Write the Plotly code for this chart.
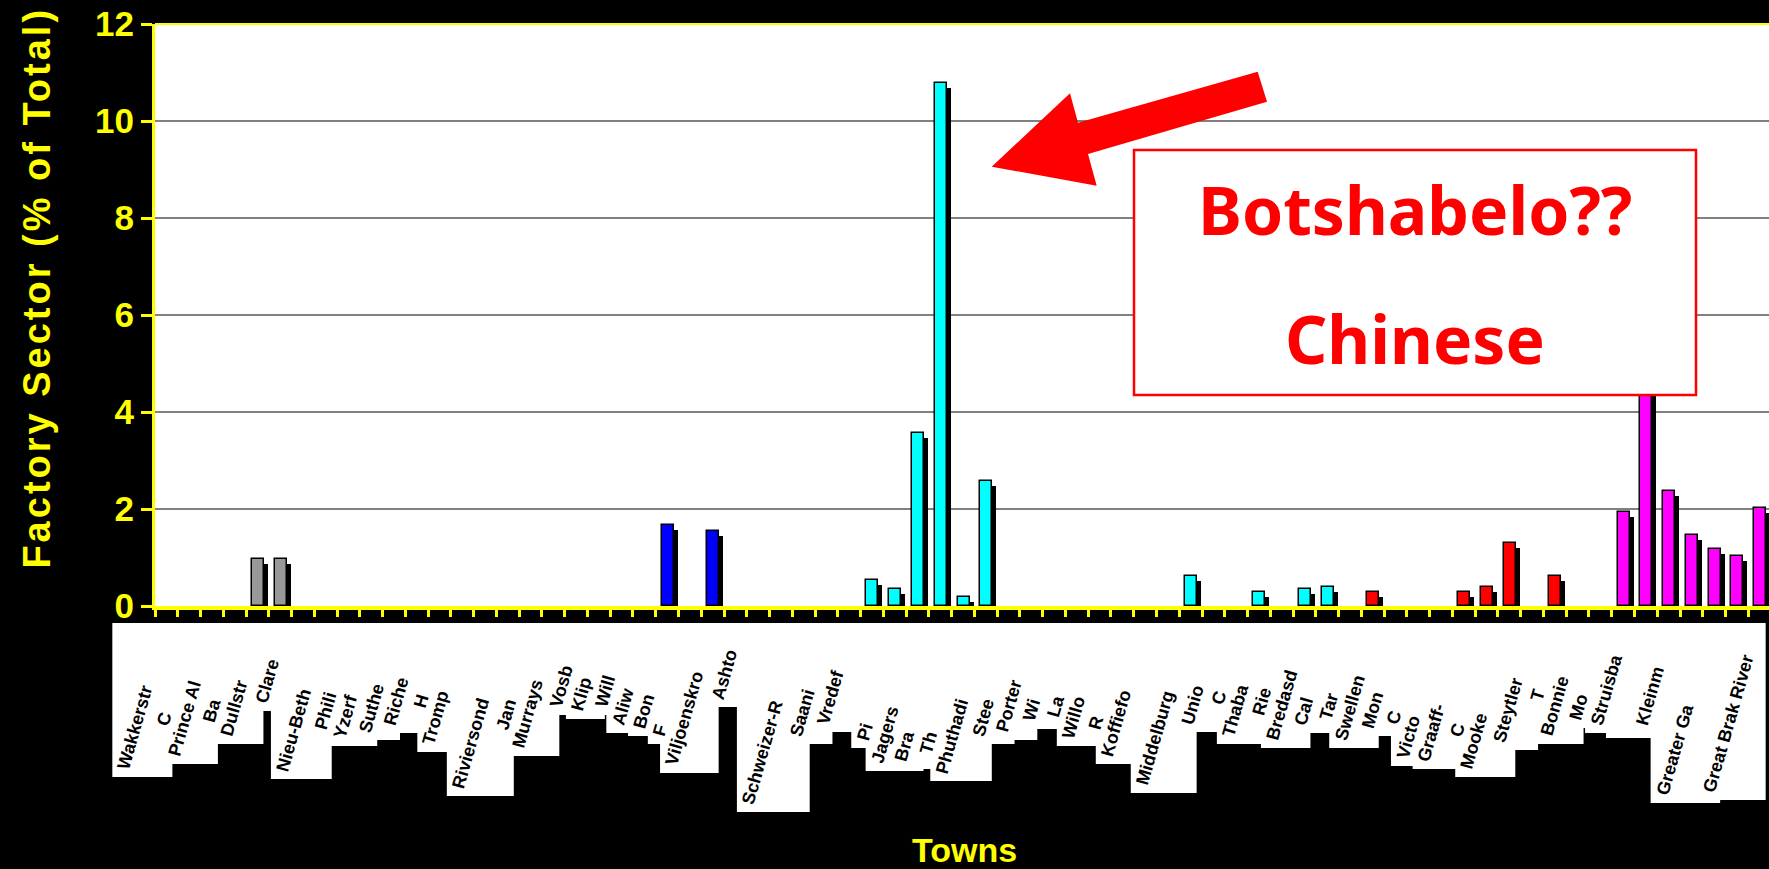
import math
import plotly.graph_objects as go

# ---------------- data ----------------
town_labels = [
    "Wakkerstr", "C", "Prince Al", "Ba", "Dullstr", "Clare", "", "Nieu-Beth", "Phili", "Yzerf",
    "Suthe", "Riche", "H", "Tromp", "", "Riviersond", "Jan", "Murrays", "Vosb", "Klip",
    "Will", "Aliw", "Bon", "F", "Viljoenskro", "Ashto", "", "", "Schweizer-R", "Saani",
    "Vredef", "", "Pi", "Jagers", "Bra", "Th", "Phuthadi", "Stee", "Porter", "Wi",
    "La", "Willo", "R", "Koffiefo", "", "Middelburg", "Unio", "C", "Thaba", "Rie",
    "Bredasd", "Cal", "Tar", "Swellen", "Mon", "C", "Victo", "Graaff-", "C", "Mooke",
    "Steytler", "T", "Bonnie", "Mo", "Struisba", "", "Kleinm", "", "Greater Ga", "",
    "Great Brak River",
]
bar_index = [4, 5, 22, 24, 31, 32, 33, 34, 35, 36, 45, 48, 50, 51,
             53, 57, 58, 59, 61, 64, 65, 66, 67, 68, 69, 70]
bar_value = [0.97, 0.97, 1.67, 1.55, 0.53, 0.35, 3.57, 10.78, 0.18, 2.57, 0.62, 0.28, 0.36, 0.40,
             0.28, 0.28, 0.40, 1.30, 0.61, 1.94, 5.0, 2.37, 1.47, 1.17, 1.03, 2.03]
bar_group = ["grey", "grey", "blue", "blue",
             "cyan", "cyan", "cyan", "cyan", "cyan", "cyan", "cyan", "cyan", "cyan", "cyan",
             "red", "red", "red", "red", "red",
             "magenta", "magenta", "magenta", "magenta", "magenta", "magenta", "magenta"]
y_ticks = [0, 2, 4, 6, 8, 10, 12]
y_title = "Factory Sector (% of Total)"
x_title = "Towns"
note_lines = ["Botshabelo??", "Chinese"]

# ---------------- layout / style constants ----------------
W, H = 1769, 869
PL, PR, PT, PB = 155, 1769, 24, 606          # plot area in pixels
X_MIN, X_MAX = -0.5, 70.41
CAT_W = (PR - PL) / (X_MAX - X_MIN)
GROUP_COLORS = {"grey": "#999999", "blue": "#0000FF", "cyan": "#00FFFF",
                "red": "#FF0000", "magenta": "#FF00FF"}
YELLOW = "#FFFF00"
FONT = "Liberation Sans, Arial, sans-serif"
# depth (px) of each rotated label's white box below the axis (layout only)
LABEL_DEPTH = [154, 110, 141, 107, 121, 88, 0, 156, 114, 123,
               117, 110, 92, 129, 0, 173, 115, 133, 92, 96,
               92, 110, 113, 121, 150, 84, 0, 0, 189, 121,
               109, 0, 125, 148, 146, 139, 158, 121, 117, 106,
               102, 123, 114, 141, 0, 170, 109, 89, 121, 100,
               125, 110, 104, 125, 113, 109, 143, 146, 122, 154,
               127, 86, 121, 105, 110, 115, 110, 0, 180, 0,
               177]
LABEL_TOP = 623
LABEL_ANGLE = 74
BOX_SLOPE = 0.364        # box width per px of depth
ARROW_PX = [(991.7, 166.7), (1070, 93.3), (1078, 122.7), (1257.7, 71.7),
            (1267, 101.7), (1088, 154), (1096.7, 185.7)]
NOTE_BOX_PX = (1134, 150, 1696, 395)


def xp(px):
    return (px - PL) / (PR - PL)


def yp(py):
    return (PB - py) / (PB - PT)


def cx(i):
    return PL + (i - X_MIN) * CAT_W


body_off = -5.5 / CAT_W
bar_w = 12 / CAT_W
shadow_off = body_off + 4 / CAT_W
shadow_drop = 5 / ((PB - PT) / 12)

colors = [GROUP_COLORS[g] for g in bar_group]

fig = go.Figure()
fig.add_trace(go.Bar(
    x=bar_index, y=[v - shadow_drop for v in bar_value],
    width=bar_w, offset=shadow_off,
    marker=dict(color="#000000", line=dict(width=0)),
    hoverinfo="skip", showlegend=False,
))
fig.add_trace(go.Bar(
    x=bar_index, y=bar_value,
    width=bar_w, offset=body_off,
    marker=dict(color=colors, line=dict(color="#000000", width=1.5)),
    showlegend=False,
))

shapes = []
annotations = []

# top border of plot
shapes.append(dict(type="line", xref="paper", yref="paper", x0=0, x1=1, y0=1, y1=1,
                   line=dict(color=YELLOW, width=2), layer="above"))

# label boxes & labels
for i, (lab, d) in enumerate(zip(town_labels, LABEL_DEPTH)):
    if d <= 0:
        continue
    right = cx(i) + 4
    left = right - d * BOX_SLOPE
    shapes.append(dict(type="rect", xref="paper", yref="paper",
                       x0=xp(left - 2), x1=xp(right + 2), y0=yp(LABEL_TOP + d), y1=yp(LABEL_TOP),
                       fillcolor="#FFFFFF", line=dict(width=0), layer="above"))
    if lab:
        annotations.append(dict(
            text=lab, xref="paper", yref="paper", x=xp(left - 3), y=yp(LABEL_TOP + d - 3),
            xanchor="left", yanchor="bottom", textangle=-LABEL_ANGLE, showarrow=False,
            font=dict(family=FONT, size=18, color="#000000", weight="bold"),
        ))

# arrow
pts = [(xp(px), yp(py)) for px, py in ARROW_PX]
path = "M " + " L ".join(f"{a:.5f},{b:.5f}" for a, b in pts) + " Z"
shapes.append(dict(type="path", xref="paper", yref="paper", path=path,
                   fillcolor="#FF0000", line=dict(width=0), layer="above"))

# note box
bx0, by0, bx1, by1 = NOTE_BOX_PX
shapes.append(dict(type="rect", xref="paper", yref="paper",
                   x0=xp(bx0), x1=xp(bx1), y0=yp(by1), y1=yp(by0),
                   fillcolor="#FFFFFF", line=dict(color="#FF0000", width=2.5), layer="above"))
note_font = dict(family="Comic Sans MS, Noto Sans, sans-serif", size=66, color="#FF0000", weight="bold")
annotations.append(dict(text=note_lines[0], xref="paper", yref="paper",
                        x=xp((bx0 + bx1) / 2), y=yp(209), xanchor="center", yanchor="middle",
                        showarrow=False, font=note_font))
annotations.append(dict(text=note_lines[1], xref="paper", yref="paper",
                        x=xp((bx0 + bx1) / 2), y=yp(338), xanchor="center", yanchor="middle",
                        showarrow=False, font=note_font))

# axis titles
annotations.append(dict(
    text=f'<span style="letter-spacing:3px">{y_title}</span>', xref="paper", yref="paper",
    x=xp(36.6), y=yp(288), xanchor="center", yanchor="middle", textangle=-90, showarrow=False,
    font=dict(family=FONT, size=38, color=YELLOW, weight="bold"),
))
annotations.append(dict(
    text=x_title, xref="paper", yref="paper", x=xp(964), y=yp(850),
    xanchor="center", yanchor="middle", showarrow=False,
    font=dict(family=FONT, size=34, color=YELLOW, weight="bold"),
))

fig.update_layout(
    template="none",
    width=W, height=H, autosize=False,
    margin=dict(l=PL, r=W - PR, t=PT, b=H - PB, pad=0),
    paper_bgcolor="#000000", plot_bgcolor="#FFFFFF",
    barmode="overlay", bargap=0,
    font=dict(family=FONT, color=YELLOW),
    showlegend=False,
    xaxis=dict(range=[X_MIN, X_MAX], tickmode="linear", tick0=-0.5, dtick=1,
               showticklabels=False, ticks="outside", ticklen=7, tickwidth=3, tickcolor=YELLOW,
               showline=True, linecolor=YELLOW, linewidth=4, showgrid=False, zeroline=False,
               automargin=False, fixedrange=True),
    yaxis=dict(range=[0, 12], tickmode="array", tickvals=y_ticks, ticktext=[str(t) for t in y_ticks],
               ticks="outside", ticklen=11, tickwidth=3, tickcolor=YELLOW,
               tickfont=dict(family=FONT, size=35, color=YELLOW, weight="bold"),
               showline=True, linecolor=YELLOW, linewidth=3,
               showgrid=True, gridcolor="#808080", gridwidth=1.5, zeroline=False,
               automargin=False, fixedrange=True),
    shapes=shapes,
    annotations=annotations,
)

fig.write_html("out.html", config={"displayModeBar": False},
               post_script="document.body.style.margin='0';document.body.style.overflow='hidden';")
